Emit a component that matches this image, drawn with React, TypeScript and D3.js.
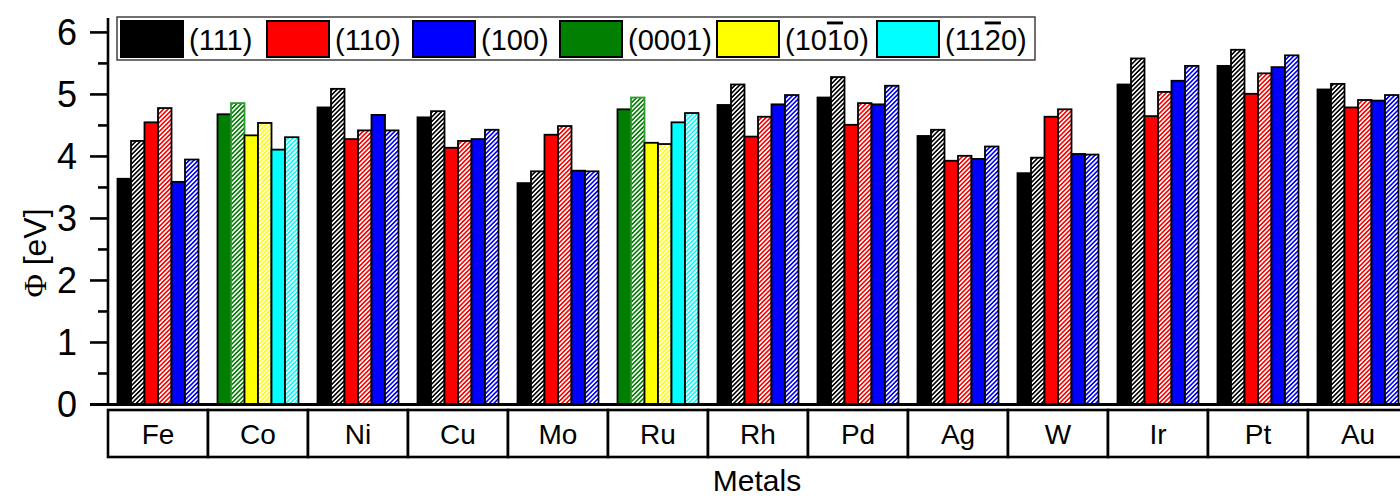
import React from 'react';
import * as d3 from 'd3';

// Metals along the category axis; Co and Ru are hcp, the rest fcc/bcc
const metals = ['Fe', 'Co', 'Ni', 'Cu', 'Mo', 'Ru', 'Rh', 'Pd', 'Ag', 'W', 'Ir', 'Pt', 'Au'];
const hcpMetals = ['Co', 'Ru'];

// Work function (eV) per facet: solid bar and hatched bar for each facet.
// fcc/bcc: facet1=(111), facet2=(110), facet3=(100)
// hcp:     facet1=(0001), facet2=(10-10), facet3=(11-20)
const facet1 = [3.64, 4.68, 4.79, 4.63, 3.57, 4.76, 4.83, 4.95, 4.33, 3.73, 5.16, 5.46, 5.08];
const facet1Hatched = [4.25, 4.86, 5.09, 4.73, 3.76, 4.95, 5.16, 5.28, 4.43, 3.98, 5.58, 5.72, 5.17];
const facet2 = [4.55, 4.34, 4.28, 4.14, 4.35, 4.22, 4.32, 4.51, 3.93, 4.64, 4.65, 5.01, 4.79];
const facet2Hatched = [4.78, 4.54, 4.42, 4.25, 4.49, 4.2, 4.64, 4.86, 4.01, 4.76, 5.04, 5.34, 4.91];
const facet3 = [3.59, 4.11, 4.67, 4.28, 3.77, 4.55, 4.84, 4.84, 3.96, 4.04, 5.22, 5.44, 4.9];
const facet3Hatched = [3.95, 4.31, 4.42, 4.43, 3.76, 4.7, 4.99, 5.14, 4.16, 4.03, 5.46, 5.63, 4.99];

const yTicks = [0, 1, 2, 3, 4, 5, 6];
const yMinorTicks = [0.5, 1.5, 2.5, 3.5, 4.5, 5.5];

// Legend entries: text pieces, with overlined digits for Miller–Bravais indices
const legendEntries = [
  { key: 'c111', parts: [{ t: '(111)' }] },
  { key: 'c110', parts: [{ t: '(110)' }] },
  { key: 'c100', parts: [{ t: '(100)' }] },
  { key: 'c0001', parts: [{ t: '(0001)' }] },
  { key: 'c1010', parts: [{ t: '(10' }, { t: '1', over: true }, { t: '0)' }] },
  { key: 'c1120', parts: [{ t: '(11' }, { t: '2', over: true }, { t: '0)' }] },
];

const colors: Record<string, string> = {
  c111: '#000000',
  c110: '#ff0000',
  c100: '#0000ff',
  c0001: '#007f00',
  c1010: '#ffff00',
  c1120: '#00ffff',
};

const FONT = '"Liberation Sans", Arial, Helvetica, sans-serif';

const W = 1400;
const H = 498;
const axisX = 108;
const axisY = 404.5;
const legendX = [121, 267, 413, 560, 717, 877];

export default function App() {
  const x0 = d3.scaleBand<string>().domain(metals).range([axisX, axisX + 100 * metals.length]);
  const x1 = d3.scaleBand<number>().domain([0, 1, 2, 3, 4, 5]).range([9.5, 90.5]);
  const y = d3.scaleLinear().domain([0, 6.2]).range([axisY, 20]);

  const series = [facet1, facet1Hatched, facet2, facet2Hatched, facet3, facet3Hatched];

  const bars = metals.flatMap((m, i) => {
    const hcp = hcpMetals.includes(m);
    const keys = hcp ? ['c0001', 'c1010', 'c1120'] : ['c111', 'c110', 'c100'];
    return series.map((s, j) => {
      const key = keys[Math.floor(j / 2)];
      const hatched = j % 2 === 1;
      const v = s[i];
      return {
        id: `${m}-${j}`,
        x: (x0(m) as number) + (x1(j) as number),
        w: x1.bandwidth(),
        y: y(v),
        h: y(0) - y(v),
        fill: hatched ? `url(#hatch-${key})` : colors[key],
        stroke: hatched && key === 'c0001' ? '#2f9a2f' : '#000',
      };
    });
  });

  return (
    <svg
      width={W}
      height={H}
      style={{ position: 'absolute', left: 0, top: 0, display: 'block', background: '#fff' }}
      fontFamily={FONT}
    >
      <defs>
        {Object.keys(colors).map((k) => (
          <pattern
            key={k}
            id={`hatch-${k}`}
            patternUnits="userSpaceOnUse"
            width={3.2}
            height={3.2}
            patternTransform="rotate(45)"
          >
            <rect x={0} y={0} width={3.2} height={3.2} fill="#fff" />
            <rect x={0} y={0} width={1.6} height={3.2} fill={colors[k]} />
          </pattern>
        ))}
      </defs>

      {/* bars */}
      {bars.map((b) => (
        <rect
          key={b.id}
          x={b.x}
          y={b.y}
          width={b.w}
          height={b.h}
          fill={b.fill}
          stroke={b.stroke}
          strokeWidth={1.8}
        />
      ))}

      {/* y axis */}
      <line x1={axisX} x2={axisX} y1={18} y2={axisY} stroke="#000" strokeWidth={2.6} />
      {yTicks.map((t) => (
        <g key={`t${t}`}>
          <line x1={90} x2={axisX} y1={y(t)} y2={y(t)} stroke="#000" strokeWidth={2.6} />
          <text x={77} y={y(t)} textAnchor="end" dominantBaseline="central" fontSize={36}>
            {t}
          </text>
        </g>
      ))}
      {yMinorTicks.map((t) => (
        <line key={`m${t}`} x1={98} x2={axisX} y1={y(t)} y2={y(t)} stroke="#000" strokeWidth={2.6} />
      ))}
      <text
        transform="translate(35,253) rotate(-90)"
        textAnchor="middle"
        dominantBaseline="central"
        fontSize={32}
      >
        <tspan fontFamily='"Liberation Serif", "Times New Roman", serif'>Φ</tspan>
        <tspan> [eV]</tspan>
      </text>

      {/* x axis baseline */}
      <line x1={90} x2={W} y1={axisY} y2={axisY} stroke="#000" strokeWidth={3} />

      {/* category boxes */}
      {metals.map((m) => {
        const bx = x0(m) as number;
        return (
          <g key={`c${m}`}>
            <rect x={bx} y={410} width={x0.bandwidth()} height={47} fill="#fff" stroke="#000" strokeWidth={2.6} />
            <text x={bx + x0.bandwidth() / 2} y={434} textAnchor="middle" dominantBaseline="central" fontSize={28}>
              {m}
            </text>
          </g>
        );
      })}
      <text x={757} y={480} textAnchor="middle" dominantBaseline="central" fontSize={30}>
        Metals
      </text>

      {/* legend */}
      <rect x={117} y={17} width={918} height={43} fill="#fff" stroke="#333" strokeWidth={1.4} />
      {legendEntries.map((e, i) => (
        <g key={e.key}>
          <rect x={legendX[i]} y={21} width={62} height={36} fill={colors[e.key]} stroke="#000" strokeWidth={2} />
          <text x={legendX[i] + 68} y={39.5} dominantBaseline="central" fontSize={29}>
            {e.parts.map((p, k) => (
              <tspan key={k} style={p.over ? { textDecoration: 'overline' } : undefined}>
                {p.t}
              </tspan>
            ))}
          </text>
        </g>
      ))}
    </svg>
  );
}
